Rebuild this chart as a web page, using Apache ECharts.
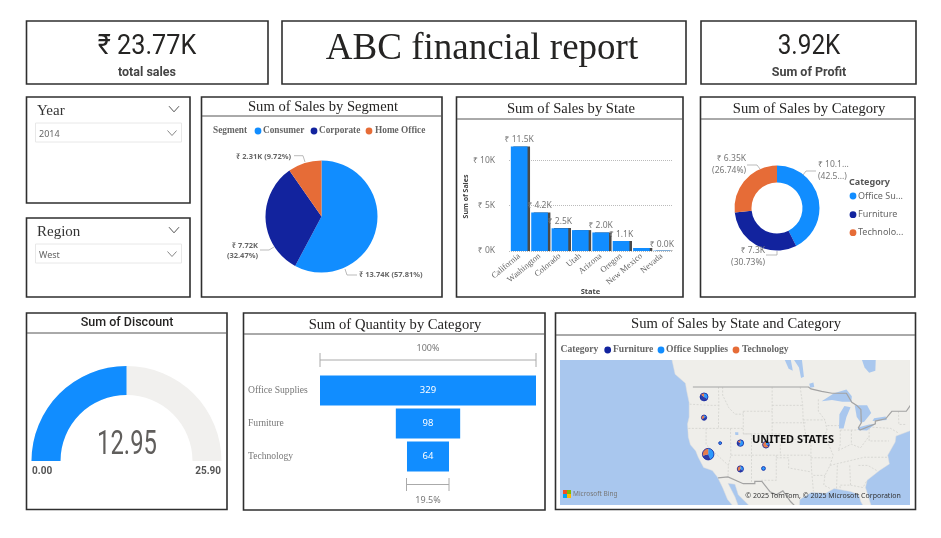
<!DOCTYPE html>
<html><head><meta charset="utf-8">
<style>html,body{margin:0;padding:0;background:#fff}#c{width:941px;height:538px}</style>
<script src="https://cdn.jsdelivr.net/npm/echarts@6/dist/echarts.min.js"></script>
</head><body><div id="c"></div>
<script>
const BLUE='#118DFF',NAVY='#12239E',ORANGE='#E66C37';
const SERIF='"Liberation Serif",serif',SANS='"Noto Sans",sans-serif',DIN='Roboto,sans-serif';
// KPI
const totalSales='₹ 23.77K',totalSalesLabel='total sales',profit='3.92K',profitLabel='Sum of Profit',reportTitle='ABC financial report';
// Segment
const segmentNames=['Consumer','Corporate','Home Office'];
const segmentSales=[13.74,7.72,2.31];
const segmentPct=[57.81,32.47,9.72];
// State
const states=['California','Washington','Colorado','Utah','Arizona','Oregon','New Mexico','Nevada'];
const stateSales=[11.5,4.24,2.5,2.3,2.04,1.1,0.33,0.04];
const stateLabelled=[true,true,true,false,true,true,false,true];
// Category
const categoryNames=['Office Supplies','Furniture','Technology'];
const categoryLegend=['Office Su...','Furniture','Technolo...'];
const categorySales=[10.11,7.3,6.35];
const categoryLabels=['₹ 10.1...\n(42.5...)','₹ 7.3K\n(30.73%)','₹ 6.35K\n(26.74%)'];
// Gauge
const discountValue=12.95,discountMin=0,discountMax=25.9;
// Funnel
const quantityCats=['Office Supplies','Furniture','Technology'];
const quantityVals=[329,98,64];
// Map legend
const mapLegend=['Furniture','Office Supplies','Technology'];
// Map bubbles: lon, lat, office, furniture, technology
const mapStates=[
 [-119.5,37.2,5.0,3.1,3.4],
 [-120.5,47.4,1.4,2.2,0.6],
 [-105.5,39.0,0.6,0.3,1.6],
 [-111.7,39.3,1.3,0.6,0.4],
 [-111.7,34.3,0.7,0.5,0.8],
 [-120.5,43.9,0.2,0.5,0.4],
 [-106.1,34.4,0.3,0,0],
 [-116.6,39.3,0.04,0,0]
];
// Simplified background geography (lon, lat)
const landOutline=[[-128.3,53.2],[-127.5,51],[-125,49.6],[-124.7,48.4],[-124.1,46.5],[-124.1,44],[-124.5,42.8],[-124.3,40.4],[-123.8,39],[-122.5,37.8],[-121.9,36.6],[-120.6,34.6],[-118.5,34],[-117.2,32.6],[-116,30.5],[-114.8,28],[-113.5,26.6],[-112.2,26.6],[-113,28.5],[-114.7,31.4],[-113,31.2],[-112.2,29],[-110.5,27.5],[-109.5,26.6],[-97.4,26.6],[-97.3,28],[-94.5,29.5],[-91,29.3],[-89,30.3],[-85,29.7],[-83,29],[-82.5,27.5],[-81.9,26.6],[-80,26.6],[-81.4,30.5],[-81,32],[-78,34],[-75.6,35.3],[-76,37],[-74.2,39.5],[-74,40.6],[-70.5,41.6],[-70.5,53.2]];
const lakes=[
 [[-92,46.7],[-89,48],[-86,48.6],[-84.7,47.5],[-84.8,46.6],[-87,46.6],[-89.5,46.9]],
 [[-87.8,42],[-86.7,42],[-86,44],[-85,45.7],[-86.5,45.9],[-87.7,44.5]],
 [[-84,46],[-81,46],[-80,44.7],[-81.7,43.2],[-82.5,43],[-83.5,44]],
 [[-83.3,41.7],[-81,41.6],[-79,42.8],[-80.5,42.7],[-83,42.2]],
 [[-79.7,43.3],[-76.2,43.5],[-76.5,44.1],[-79.3,43.8]],
 [[-98.8,53.2],[-96.8,53.2],[-96.3,50.6],[-97,50.4],[-97.5,52]],
 [[-82.3,53.2],[-78.9,53.2],[-79,51.5],[-80.5,51.2],[-81.6,52]],
 [[-101,53.2],[-99.5,53.2],[-99,51.5],[-100,51.8]],
 [[-95,49.5],[-94,49.7],[-93.8,49],[-94.8,48.9]],
 [[-113,41.3],[-112.2,41.3],[-112.2,40.8],[-112.9,40.8]]
];
const countryBorders=[
 [[-123.2,49],[-95.2,49],[-94.6,48.7],[-92,48.3],[-89.5,48],[-86,48],[-84.7,46.5],[-83.5,46],[-82.5,45.3],[-82.4,43],[-83.1,42.1],[-82.7,41.7],[-79,42.8],[-79,43.3],[-76.5,43.7],[-75,45],[-71.5,45],[-70.5,46]],
 [[-117.1,32.5],[-114.7,32.7],[-111,31.3],[-108.2,31.3],[-108.2,31.8],[-106.5,31.8],[-104.5,29.6],[-103,29],[-101.4,29.8],[-99.5,27.5],[-98.5,26.6]]
];
const stateLines=[
 [[-124.3,42],[-111,42]],[[-120,42],[-120,39],[-114.6,35]],[[-114.1,42],[-114,37],[-114.6,35],[-114.7,32.7]],[[-117,49],[-116.9,46],[-117,44],[-117,42]],[[-124,46.2],[-119,46],[-116.9,46]],
 [[-116,49],[-116,47.7],[-114.5,45.6],[-113,44.5],[-111,44.5]],[[-111,45],[-111,41],[-109,41],[-109,31.3]],[[-114,37],[-94.6,37]],[[-104,49],[-104,41]],[[-111,45],[-104,45]],[[-104,43],[-95.5,43]],[[-111,41],[-102,41]],[[-102,41],[-102,37]],[[-103,37],[-103,32],[-106.6,32]],
 [[-104,46],[-96.6,46]],[[-103,36.5],[-100,36.5],[-100,34.5],[-94.5,33.7]],[[-102,40],[-95.3,40]],[[-97.2,49],[-96.6,46],[-96.5,43.5],[-95.8,40.6],[-94.6,39],[-94.6,36.5],[-94.4,33.6],[-94,29.7]],[[-96.5,43.5],[-91.2,43.5]],[[-92.8,47],[-92.8,45],[-91.2,43.5],[-90.7,41.7],[-91.5,40.4],[-90.2,38.8],[-89.2,37],[-90,35],[-91.2,33],[-91.5,31],[-89.7,30.2]],
 [[-95.8,40.6],[-91.7,40.6]],[[-94.6,36.5],[-89.5,36.5]],[[-94,33],[-91.2,33]],[[-90,35],[-81.7,36.6],[-75.8,36.6]],[[-88.2,35],[-88.4,30.3]],[[-85.2,35],[-85,31],[-87.6,31],[-87.5,30.3]],[[-85,31],[-82,30.5],[-81,32]],[[-87.5,41.7],[-87.5,39],[-88,37.9]],[[-84.8,41.7],[-84.8,39.1]],[[-87.5,41.7],[-83.4,41.7]],[[-88,37.9],[-84.8,39.1],[-82.6,38.4],[-80.5,40.6]],[[-90.6,42.5],[-87.8,42.5]],[[-80.5,42],[-80.5,39.7],[-75.7,39.7]],[[-79.7,42.2],[-75.3,42],[-73.5,41.2]],[[-83.1,35],[-80.8,35],[-78.5,33.9]],[[-73.4,45],[-73.3,42.7],[-71.5,42.7]]
];
const merc=lat=>Math.asinh(Math.tan(lat*Math.PI/180));

// Layout helpers
function rect(x0,y0,x1,y1,lw){return {type:'rect',silent:true,z:5,shape:{x:x0,y:y0,width:x1-x0,height:y1-y0},style:{fill:'none',stroke:'#2f2f2f',lineWidth:lw||1.6}};}
function hline(x0,x1,y,c,w){return {type:'line',silent:true,z:5,shape:{x1:x0,y1:y,x2:x1,y2:y},style:{stroke:c||'#555',lineWidth:w||1}};}
function txt(s,x,y,size,color,family,align,weight,sx){return {type:'text',silent:true,z:20,x:x,y:y,scaleX:sx||1,style:{text:s,fontSize:size,fill:color,fontFamily:family,align:align||'center',verticalAlign:'middle',fontWeight:weight||'normal'}};}
function chev(cx,cy,w,h,c){return {type:'polyline',silent:true,z:6,shape:{points:[[cx-w,cy-h],[cx,cy+h],[cx+w,cy-h]]},style:{stroke:c||'#666',fill:'none',lineWidth:1}};}
function slicer(x0,y0,x1,y1,title,val){return [
 rect(x0,y0,x1,y1),
 txt(title,37,y0+14.5,15,'#333',SERIF,'left'),
 chev(174,y0+12,5,2.8,'#555'),
 {type:'rect',silent:true,shape:{x:35.5,y:y0+26,width:146,height:19},style:{fill:'#fff',stroke:'#e8e8e8',lineWidth:1}},
 txt(val,39,y0+37,9,'#666',SANS,'left'),
 chev(172,y0+36,4.5,2.5,'#888')
];}
function dot(x,y,c){return {type:'circle',silent:true,z:20,shape:{cx:x,cy:y,r:3.4},style:{fill:c}};}
function vbar(x,y0,y1){return {type:'line',silent:true,shape:{x1:x,y1:y0,x2:x,y2:y1},style:{stroke:'#aaa',lineWidth:1}};}
function legendRow(names,colors,dotX,textX,y,size,family,weight){
 const out=[];names.forEach((n,i)=>{out.push(dot(dotX[i],y,colors[i]));out.push(txt(n,textX[i],y,size,'#666',family,'left',weight));});return out;}
function legendCol(names,colors,dotX,textX,ys,size,family){
 const out=[];names.forEach((n,i)=>{out.push(dot(dotX,ys[i],colors[i]));out.push(txt(n,textX,ys[i],size,'#666',family,'left'));});return out;}

const pieColors=[BLUE,NAVY,ORANGE];
const graphic=[
 rect(26.5,21,268,84),txt(totalSales,147,47,28,'#252423',DIN,'center','normal',0.9),txt(totalSalesLabel,147,73,12.5,'#444',DIN,'center','bold'),
 rect(282,21,686,84),txt(reportTitle,482,49,37,'#252423',SERIF),
 rect(701,21,916,84),txt(profit,809,47,27,'#252423',DIN,'center','normal',0.9),txt(profitLabel,809,73,12.5,'#444',DIN,'center','bold'),
 ...slicer(26.5,97,190,203,'Year','2014'),
 ...slicer(26.5,218,190,297,'Region','West'),
 rect(201.5,97,442,297),hline(202,442,116),txt('Sum of Sales by Segment',323,107,14.6,'#252423',SERIF),
 txt('Segment',213,131,9.3,'#666',SERIF,'left','bold'),
 ...legendRow(segmentNames,pieColors,[258,314,369],[263,319,375],131,9.3,SERIF,'bold'),
 rect(456.5,97,683,297),hline(457,683,119),txt('Sum of Sales by State',571,109.5,14.6,'#252423',SERIF),
 rect(700.5,97,915,297),hline(701,915,119),txt('Sum of Sales by Category',809,109.5,14.6,'#252423',SERIF),
 txt('Category',849,182,9,'#555',SANS,'left','bold'),
 ...legendCol(categoryLegend,pieColors,853,858,[196,214.7,232.7],9,SANS),
 rect(26.5,313,227,509.5),hline(27,227,333),txt('Sum of Discount',127,323,12.5,'#252423',DIN,'center','500'),
 txt(discountValue.toFixed(2),127,445,34,'#605E5C',DIN,'center','normal',0.7),
 txt(discountMin.toFixed(2),32,471,10,'#555',DIN,'left','bold'),txt(discountMax.toFixed(2),221,471,10,'#555',DIN,'right','bold'),
 rect(243.5,313,545,510),hline(244,545,334),txt('Sum of Quantity by Category',395,325,14.6,'#252423',SERIF),
 txt('100%',428,348,9,'#777',SANS),
 vbar(320,353,367),vbar(536,353,367),hline(320,536,360,'#aaa'),
 vbar(406.5,478,491),vbar(449,478,491),hline(406.5,449,484.5,'#aaa'),
 txt('19.5%',428,500,9,'#777',SANS),
 rect(555.5,313,915.5,509.5),hline(556,915,335),txt('Sum of Sales by State and Category',736,324.5,14.6,'#252423',SERIF),
 txt('Category',560.5,350,9.6,'#666',SERIF,'left','bold'),
 ...legendRow(mapLegend,[NAVY,BLUE,ORANGE],[607.7,661,736],[613,666,742],350,9.6,SERIF,'bold'),
 txt('UNITED STATES',793,440,10,'#111',SANS,'center','bold',1.1),
 {type:'rect',silent:true,z:20,shape:{x:563,y:490,width:4,height:4},style:{fill:'#F25022'}},
 {type:'rect',silent:true,z:20,shape:{x:567,y:490,width:4,height:4},style:{fill:'#7FBA00'}},
 {type:'rect',silent:true,z:20,shape:{x:563,y:494,width:4,height:4},style:{fill:'#00A4EF'}},
 {type:'rect',silent:true,z:20,shape:{x:567,y:494,width:4,height:4},style:{fill:'#FFB900'}},
 txt('Microsoft Bing',573,494,6.5,'#777',SANS,'left'),
 txt('© 2025 TomTom, © 2025 Microsoft Corporation',823,496,7,'#333',SANS)
];

// label placement (x, y, align, leader line) for the two pies
const segLabelLayout=[
 {x:359,y:275,align:'left',verticalAlign:'middle',labelLinePoints:[[345,269],[347,275],[357,275]]},
 {x:258,y:251,align:'right',verticalAlign:'middle',labelLinePoints:[[274,247],[269,250],[260,250]]},
 {x:291,y:157,align:'right',verticalAlign:'middle',labelLinePoints:[[305,162],[303,155.7],[294,155.7]]}
];
const catLabelLayout=[
 {x:818,y:171,align:'left',verticalAlign:'middle',labelLinePoints:[[803,175],[806,171],[816,171]]},
 {x:765,y:257,align:'right',verticalAlign:'middle',labelLinePoints:[[777,251],[777,255],[766,255]]},
 {x:746,y:165,align:'right',verticalAlign:'middle',labelLinePoints:[[760,169],[757,165],[747,165]]}
];

const option={
 animation:false,
 backgroundColor:'#fff',
 graphic:{elements:graphic},
 grid:[
  {left:509,top:142,width:163,height:109},
  {left:320,top:374,width:216,height:99},
  {left:560,top:360,width:350,height:145,show:true,backgroundColor:'#A9C7EE',borderWidth:0}
 ],
 xAxis:[
  {gridIndex:0,type:'category',data:states,axisLine:{show:false},axisTick:{show:false},name:'State',nameLocation:'middle',nameGap:37,nameMoveOverlap:false,nameTextStyle:{fontFamily:SANS,fontSize:7.5,fontWeight:'bold',color:'#444'},
   axisLabel:{interval:0,rotate:40,fontFamily:SERIF,fontSize:8.5,color:'#666',margin:4}},
  {gridIndex:1,type:'value',min:-164.5,max:164.5,show:false},
  {gridIndex:2,type:'value',min:-155.4,max:-70.6,show:false}
 ],
 yAxis:[
  {gridIndex:0,type:'value',min:0,max:12,interval:5,name:'Sum of Sales',nameLocation:'middle',nameGap:38,nameTextStyle:{fontFamily:SANS,fontSize:7,fontWeight:'bold',color:'#444'},
   axisLine:{show:false},axisTick:{show:false},
   axisLabel:{showMaxLabel:false,fontFamily:SANS,fontSize:8.5,color:'#777',margin:14,formatter:v=>'₹ '+v+'K'},
   splitLine:{showMaxLine:false,lineStyle:{type:'dotted',color:'#bbb'}}},
  {gridIndex:1,type:'category',inverse:true,data:quantityCats,axisLine:{show:false},axisTick:{show:false},
   axisLabel:{align:'left',margin:72,fontFamily:SERIF,fontSize:9.6,color:'#777'}},
  {gridIndex:2,type:'value',min:merc(26.8),max:merc(53.1),show:false}
 ],
 series:[
  {type:'pie',name:'Segment',center:[321.5,216.5],radius:[0,56],startAngle:90,clockwise:true,silent:true,
   data:segmentNames.map((n,i)=>({name:n,value:segmentSales[i],itemStyle:{color:pieColors[i]}})),
   label:{fontFamily:SANS,fontSize:7.5,fontWeight:'bold',color:'#666',lineHeight:10,
    formatter:p=>{const s='₹ '+segmentSales[p.dataIndex]+'K';const q='('+segmentPct[p.dataIndex]+'%)';return p.dataIndex===1?s+'\n'+q:s+' '+q;}},
   labelLine:{show:true,lineStyle:{color:'#aaa',width:.8}},
   labelLayout:p=>segLabelLayout[p.dataIndex]},
  {type:'pie',name:'Category',center:[777,208],radius:[25.5,42.5],startAngle:90,clockwise:true,silent:true,
   data:categoryNames.map((n,i)=>({name:n,value:categorySales[i],itemStyle:{color:pieColors[i]}})),
   label:{fontFamily:SANS,fontSize:8.5,color:'#777',lineHeight:12,formatter:p=>categoryLabels[p.dataIndex]},
   labelLine:{show:true,lineStyle:{color:'#aaa',width:.8}},
   labelLayout:p=>catLabelLayout[p.dataIndex]},
  {type:'bar',xAxisIndex:0,yAxisIndex:0,data:stateSales,barWidth:16.7,silent:true,
   itemStyle:{color:BLUE,shadowColor:'#4a4a4a',shadowOffsetX:2.5,shadowBlur:0.01},
   label:{show:true,position:'top',distance:2,fontFamily:SANS,fontSize:8.5,color:'#777',
     formatter:p=>stateLabelled[p.dataIndex]?'₹ '+p.value.toFixed(1)+'K':''}},
  {type:'gauge',center:[126.5,461],radius:95,startAngle:180,endAngle:0,min:discountMin,max:discountMax,silent:true,
   axisLine:{lineStyle:{width:29,color:[[1,'#F1F0EE']]}},
   progress:{show:true,width:29,itemStyle:{color:BLUE}},
   pointer:{show:false},axisTick:{show:false},splitLine:{show:false},axisLabel:{show:false},title:{show:false},detail:{show:false},
   data:[{value:discountValue}]},
  {type:'custom',xAxisIndex:1,yAxisIndex:1,silent:true,
   data:quantityVals.map((v,i)=>[i,v]),encode:{y:0,x:1},
   renderItem:(p,api)=>{const v=api.value(1),i=api.value(0);const a=api.coord([-v/2,i]),b=api.coord([v/2,i]);
     return {type:'group',children:[
      {type:'rect',shape:{x:a[0],y:a[1]-15,width:b[0]-a[0],height:30},style:{fill:BLUE}},
      {type:'text',x:(a[0]+b[0])/2,y:a[1],style:{text:String(v),fill:'#fff',fontSize:9.5,fontFamily:SANS,align:'center',verticalAlign:'middle'}}]};}},
  // map background
  {type:'custom',xAxisIndex:2,yAxisIndex:2,silent:true,clip:true,z:1,
   data:[[0,0]],
   renderItem:(p,api)=>{const pt=c=>api.coord([c[0],merc(c[1])]);
     const ch=[{type:'polygon',shape:{points:landOutline.map(pt)},style:{fill:'#EFEEEA',stroke:'#e2e1dc',lineWidth:.5}}];
     lakes.forEach(l=>ch.push({type:'polygon',shape:{points:l.map(pt)},style:{fill:'#A9C7EE'}}));
     stateLines.forEach(l=>ch.push({type:'polyline',shape:{points:l.map(pt)},style:{fill:'none',stroke:'#cfceca',lineWidth:.7,lineDash:[2,1.5]}}));
     countryBorders.forEach(l=>ch.push({type:'polyline',shape:{points:l.map(pt)},style:{fill:'none',stroke:'#a3a3a3',lineWidth:1.2}}));
     return {type:'group',children:ch};}},
  // map bubbles
  {type:'custom',xAxisIndex:2,yAxisIndex:2,silent:true,clip:true,z:3,
   data:mapStates.map(s=>[s[0],merc(s[1]),s[2],s[3],s[4]]),encode:{x:0,y:1},
   renderItem:(p,api)=>{const c=api.coord([api.value(0),api.value(1)]);const vals=[api.value(2),api.value(3),api.value(4)];
     const t=vals[0]+vals[1]+vals[2],r=1.2+1.35*Math.sqrt(t);let a=-Math.PI/2;const ch=[];
     vals.forEach((v,i)=>{if(!v)return;const e=a+v/t*2*Math.PI-1e-4;
       ch.push({type:'sector',shape:{cx:c[0],cy:c[1],r0:0,r:r,startAngle:a,endAngle:e,clockwise:true},style:{fill:pieColors[i],opacity:0.88}});a=e;});
     ch.push({type:'circle',shape:{cx:c[0],cy:c[1],r:r},style:{fill:'none',stroke:NAVY,lineWidth:.8}});
     return {type:'group',children:ch};}}
 ]
};
echarts.init(document.getElementById('c')).setOption(option);
</script></body></html>
